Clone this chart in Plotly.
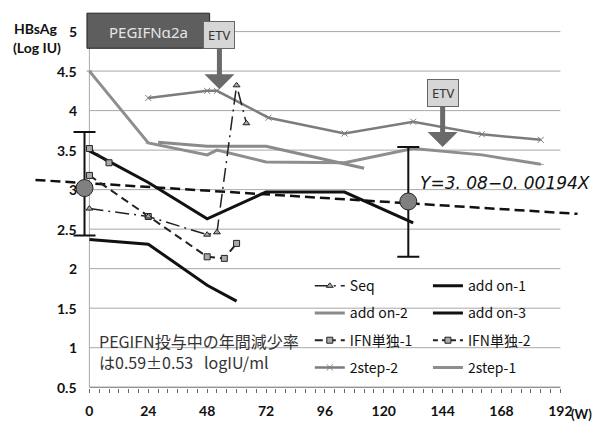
import plotly.graph_objects as go

# ---- data (weeks, HBsAg log IU) ----
weeks_seq = [0, 24, 48, 52, 60, 64]
hbs_seq = [2.76, 2.66, 2.43, 2.46, 4.32, 3.84]

weeks_add1 = [0, 24, 48, 72, 104, 132]
hbs_add1 = [3.49, 3.09, 2.63, 2.97, 2.97, 2.58]

weeks_add2 = [28, 48, 52, 64, 72, 112]
hbs_add2 = [3.60, 3.55, 3.55, 3.55, 3.55, 3.27]

weeks_add3 = [0, 24, 48, 60]
hbs_add3 = [2.37, 2.31, 1.79, 1.59]

weeks_ifn1 = [0, 24, 48, 55, 60]
hbs_ifn1 = [3.18, 2.66, 2.15, 2.13, 2.32]

weeks_ifn2 = [0, 8]
hbs_ifn2 = [3.52, 3.34]

weeks_2step2 = [24, 48, 52, 73, 104, 132, 160, 184]
hbs_2step2 = [4.16, 4.25, 4.25, 3.91, 3.71, 3.86, 3.70, 3.63]

weeks_2step1 = [0, 24, 48, 52, 72, 104, 132, 160, 184]
hbs_2step1 = [4.50, 3.59, 3.44, 3.50, 3.35, 3.34, 3.52, 3.44, 3.32]

# group mean ± SD
mean_weeks = [-2, 130]
mean_hbs = [3.02, 2.85]
sd_up = [0.71, 0.69]
sd_down = [0.60, 0.70]

# regression Y = 3.08 - 0.00194 X
reg_intercept = 3.08
reg_slope = -0.00194
reg_weeks = [-22, 199]

# ETV start markers (week, level pointed at)
etv_weeks = [53, 144]
etv_levels = [4.27, 3.54]

x_ticks = list(range(0, 193, 4))
x_tick_text = [str(w) if w % 24 == 0 else "" for w in x_ticks]
y_ticks = [0.5, 1, 1.5, 2, 2.5, 3, 3.5, 4, 4.5, 5]
y_tick_text = ["0.5", "1", "1.5", "2", "2.5", "3", "3.5", "4", "4.5", "5"]

JP = "Noto Sans CJK JP"
NUM = "Lato"

fig = go.Figure()

# regression line
fig.add_trace(go.Scatter(
    x=reg_weeks, y=[reg_intercept + reg_slope * w for w in reg_weeks],
    mode="lines", line=dict(color="#111", width=2.5, dash="10px,5px"),
    showlegend=False, hoverinfo="skip"))

def series(name, x, y, legend, rank, color, width, dash="solid", symbol=None, msize=6):
    mode = "lines+markers" if symbol else "lines"
    fig.add_trace(go.Scatter(
        x=x, y=y, name=name, mode=mode, legend=legend, legendgroup=name, legendrank=rank,
        line=dict(color=color, width=width, dash=dash),
        marker=dict(symbol=symbol or "circle", size=msize, color="#aaa",
                    line=dict(color=color, width=1))))

series("add on-2", weeks_add2, hbs_add2, "legend", 2, "#8a8a8a", 3)
series("2step-1", weeks_2step1, hbs_2step1, "legend2", 4, "#8e8e8e", 3, symbol="line-ew", msize=4)
series("2step-2", weeks_2step2, hbs_2step2, "legend", 4, "#7c7c7c", 2.5, symbol="x-thin", msize=6)
series("add on-1", weeks_add1, hbs_add1, "legend2", 1, "#111", 3)
series("add on-3", weeks_add3, hbs_add3, "legend2", 2, "#111", 3)
series("IFN単独-1", weeks_ifn1, hbs_ifn1, "legend", 3, "#222", 2, dash="8px,5px", symbol="square", msize=6)
series("IFN単独-2", weeks_ifn2, hbs_ifn2, "legend2", 3, "#222", 2, dash="5px,4px", symbol="square", msize=6)
series("Seq", weeks_seq, hbs_seq, "legend", 1, "#222", 1.5, dash="14px,5px,2px,5px", symbol="triangle-up", msize=6)

# mean ± SD
fig.add_trace(go.Scatter(
    x=mean_weeks, y=mean_hbs, mode="markers", showlegend=False,
    marker=dict(symbol="circle", size=17, color="#808080", line=dict(color="#222", width=1)),
    error_y=dict(type="data", symmetric=False, array=sd_up, arrayminus=sd_down,
                 color="#111", thickness=2, width=11)))

shapes = []
# horizontal grid
for v in y_ticks[1:]:
    shapes.append(dict(type="line", xref="x", yref="y", x0=0, x1=192, y0=v, y1=v,
                       line=dict(color="#a8a8a8", width=1), layer="below"))
# axes lines
shapes.append(dict(type="line", xref="x", yref="y", x0=0, x1=192, y0=0.5, y1=0.5,
                   line=dict(color="#666", width=1), layer="below"))
shapes.append(dict(type="line", xref="x", yref="y", x0=0, x1=0, y0=0.5, y1=5,
                   line=dict(color="#aaa", width=1), layer="below"))
# PEGIFN treatment period
shapes.append(dict(type="rect", xref="x", yref="paper", x0=-1, x1=49, y0=0.949, y1=1.047,
                   fillcolor="#5e5e5e", line=dict(color="#222", width=1), layer="above"))

annotations = []
for v, t in zip(y_ticks, y_tick_text):
    annotations.append(dict(x=0, y=v, xref="x", yref="y", text=t, showarrow=False,
                            xanchor="right", yanchor="middle", xshift=-10,
                            font=dict(family=NUM, size=14, color="#111", weight="bold")))

def note(x, y, text, font, xref="paper", xanchor="left"):
    annotations.append(dict(x=x, y=y, xref=xref, yref="paper", text=text, showarrow=False,
                            xanchor=xanchor, yanchor="middle", align="left", font=font))

note(-0.038, 1.004, "HBsAg", dict(family=NUM, size=14, color="#111", weight="bold"))
note(-0.040, 0.951, "(Log IU)", dict(family=NUM, size=14, color="#111", weight="bold"))
note(24, 0.994, "PEGIFNα2a", dict(family="Noto Sans", size=15, color="#e6e6e6"),
     xref="x", xanchor="center")
note(0.117, 0.103, "PEGIFN投与中の年間減少率<br>は0.59±0.53\u00a0\u00a0\u00a0logIU/ml",
     dict(family=JP, size=16, color="#333"))
note(0.704, 0.573, "<i>Y=3. 08−0. 00194X</i>", dict(family="DejaVu Sans", size=17, color="#111"))
note(0.979, -0.073, "(W)", dict(family=NUM, size=13, color="#111", weight="bold"))

for w, lv in zip(etv_weeks, etv_levels):
    annotations.append(dict(
        x=w, y=lv, xref="x", yref="y", text="ETV", showarrow=True,
        ax=0, ay=-54, arrowhead=1, arrowwidth=5, arrowsize=1, arrowcolor="#6a6a6a",
        bgcolor="#d6d6d6", bordercolor="#666", borderwidth=1, borderpad=4,
        font=dict(family="Noto Sans", size=13, color="#333")))

legend_style = dict(bgcolor="rgba(0,0,0,0)", borderwidth=0, tracegroupgap=6,
                    font=dict(family=JP, size=14, color="#111"),
                    yanchor="top", xanchor="left", orientation="v",
                    traceorder="grouped")

fig.update_layout(
    width=602, height=424,
    margin=dict(l=33, r=22, t=30, b=36, autoexpand=False),
    paper_bgcolor="white", plot_bgcolor="white",
    showlegend=True,
    legend=dict(x=0.506, y=0.329, **legend_style),
    legend2=dict(x=0.722, y=0.329, **legend_style),
    xaxis=dict(range=[-23, 200], tickvals=x_ticks, ticktext=x_tick_text,
               ticks="outside", ticklen=4, tickcolor="#666", showgrid=False,
               zeroline=False, showline=False, ticklabelstandoff=6,
               tickfont=dict(family=NUM, size=14, color="#111", weight="bold")),
    yaxis=dict(range=[0.49, 5.02], showgrid=False, zeroline=False, showline=False,
               showticklabels=False, ticks=""),
    shapes=shapes,
    annotations=annotations,
)

fig.write_html("out.html")
